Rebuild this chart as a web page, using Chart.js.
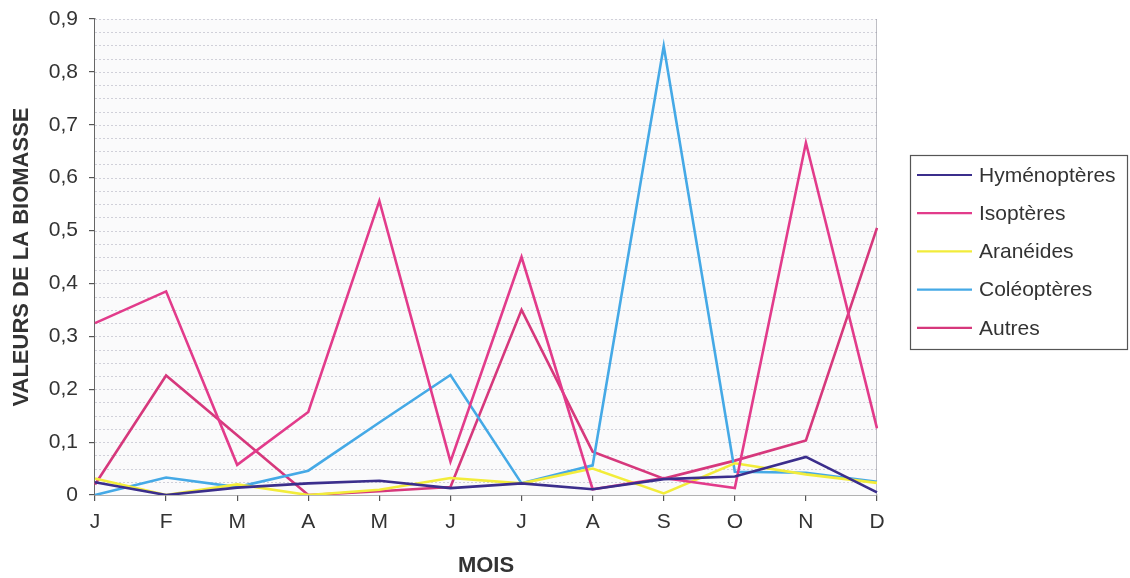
<!DOCTYPE html>
<html>
<head>
<meta charset="utf-8">
<script src="https://cdn.jsdelivr.net/npm/chart.js@4.4.1/dist/chart.umd.min.js"></script>
<style>
  html, body { margin: 0; padding: 0; background: #ffffff; }
  #wrap { width: 1130px; height: 578px; position: relative; }
</style>
</head>
<body>
<div id="wrap"><canvas id="c" width="1130" height="578"></canvas></div>
<script>
// Mois de l'année
const months = ['J', 'F', 'M', 'A', 'M', 'J', 'J', 'A', 'S', 'O', 'N', 'D'];

// Valeurs de la biomasse par groupe
const hymenopteres = [0.024, 0.0, 0.014, 0.022, 0.027, 0.013, 0.022, 0.011, 0.030, 0.035, 0.072, 0.005];
const isopteres    = [0.325, 0.385, 0.057, 0.157, 0.556, 0.063, 0.450, 0.011, 0.032, 0.013, 0.666, 0.126];
const araneides    = [0.031, 0.0, 0.020, 0.0, 0.010, 0.032, 0.022, 0.050, 0.003, 0.060, 0.039, 0.023];
const coleopteres  = [0.0, 0.033, 0.015, 0.046, 0.137, 0.227, 0.022, 0.056, 0.849, 0.044, 0.042, 0.025];
const autres       = [0.020, 0.226, 0.113, 0.0, 0.007, 0.015, 0.350, 0.082, 0.031, 0.065, 0.103, 0.505];

// Graduations de l'axe des valeurs
const yTicks = [0, 0.1, 0.2, 0.3, 0.4, 0.5, 0.6, 0.7, 0.8, 0.9];

const FONT = "'Liberation Sans', Arial, 'DejaVu Sans', sans-serif";
const TEXT = '#333333';

// Fond de la zone de tracé avec trame horizontale fine
const plotBackground = {
  id: 'plotBackground',
  beforeDatasetsDraw(chart) {
    const { ctx, chartArea: a, scales: { y } } = chart;
    ctx.save();
    ctx.fillStyle = '#fafafb';
    ctx.fillRect(a.left, a.top, a.right - a.left, a.bottom - a.top);
    ctx.strokeStyle = 'rgba(150,150,170,0.42)';
    ctx.lineWidth = 1;
    ctx.setLineDash([2, 2]);
    for (let v = 0.025; v <= 0.9001; v += 0.025) {
      const py = Math.round(y.getPixelForValue(v)) + 0.5;
      ctx.beginPath();
      ctx.moveTo(a.left, py);
      ctx.lineTo(a.right, py);
      ctx.stroke();
    }
    ctx.setLineDash([]);
    ctx.strokeStyle = 'rgba(150,150,160,0.6)';
    ctx.beginPath();
    ctx.moveTo(a.right - 0.5, a.top);
    ctx.lineTo(a.right - 0.5, a.bottom);
    ctx.stroke();
    ctx.restore();
  }
};

// Légende encadrée à droite du graphique
const boxedLegend = {
  id: 'boxedLegend',
  afterDraw(chart) {
    const ctx = chart.ctx;
    const x0 = 910, y0 = 155, w = 217, h = 194;
    ctx.save();
    ctx.strokeStyle = '#555555';
    ctx.lineWidth = 1.2;
    ctx.strokeRect(x0 + 0.5, y0 + 0.5, w, h);
    ctx.font = '21px ' + FONT;
    ctx.textBaseline = 'middle';
    ctx.textAlign = 'left';
    chart.data.datasets.forEach((ds, i) => {
      const ly = y0 + 20 + i * 38.2;
      ctx.strokeStyle = ds.borderColor;
      ctx.lineWidth = 2.2;
      ctx.beginPath();
      ctx.moveTo(x0 + 7, ly);
      ctx.lineTo(x0 + 62, ly);
      ctx.stroke();
      ctx.fillStyle = TEXT;
      ctx.fillText(ds.label, x0 + 69, ly + 1);
    });
    ctx.restore();
  }
};

const series = (label, data, color) => ({
  label, data,
  borderColor: color,
  backgroundColor: color,
  borderWidth: 2.6,
  pointRadius: 0,
  tension: 0,
  fill: false
});

new Chart(document.getElementById('c'), {
  type: 'line',
  data: {
    labels: months,
    datasets: [
      series('Hyménoptères', hymenopteres, '#3b2e8c'),
      series('Isoptères', isopteres, '#e23b8b'),
      series('Aranéides', araneides, '#f2ec3a'),
      series('Coléoptères', coleopteres, '#45a9e6'),
      series('Autres', autres, '#d6387c')
    ]
  },
  options: {
    responsive: false,
    devicePixelRatio: 1,
    animation: false,
    layout: { padding: { left: 0, right: 253, top: 19, bottom: 0 } },
    plugins: { legend: { display: false }, tooltip: { enabled: false } },
    scales: {
      x: {
        type: 'category',
        offset: false,
        grid: { drawOnChartArea: false, drawTicks: true, tickLength: 6, color: '#555555', lineWidth: 1.2 },
        border: { color: '#666666', width: 1.5 },
        ticks: { color: TEXT, font: { family: FONT, size: 21 }, padding: 9, maxRotation: 0, autoSkip: false },
        title: { display: true, text: 'MOIS', color: TEXT, font: { family: FONT, size: 22, weight: 'bold' }, padding: { top: 0, bottom: -1 } },
        afterFit(s) { s.height = 83; s.paddingLeft = 0; s.paddingRight = 0; }
      },
      y: {
        min: 0,
        max: 0.9,
        afterBuildTicks(s) { s.ticks = yTicks.map(v => ({ value: v })); },
        grid: { drawOnChartArea: false, drawTicks: true, tickLength: 6, color: '#555555', lineWidth: 1.2 },
        border: { color: '#666666', width: 1.5 },
        ticks: {
          color: TEXT,
          font: { family: FONT, size: 21 },
          padding: 11,
          callback: v => (v === 0 ? '0' : v.toFixed(1).replace('.', ','))
        },
        title: { display: true, text: 'VALEURS DE LA BIOMASSE', color: TEXT, font: { family: FONT, size: 22, weight: 'bold' }, padding: { top: 9, bottom: 0 } },
        afterFit(s) { s.width = 95; s.paddingTop = 0; s.paddingBottom = 0; }
      }
    }
  },
  plugins: [plotBackground, boxedLegend]
});
</script>
</body>
</html>
